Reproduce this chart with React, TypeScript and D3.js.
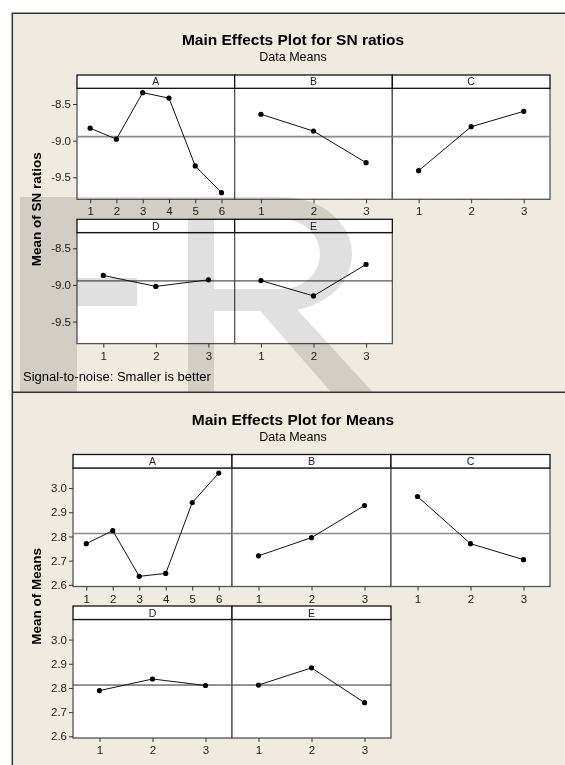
import { useEffect, useRef } from "react";
import * as d3 from "d3";

// factor levels
const levels6 = ["1", "2", "3", "4", "5", "6"];
const levels3 = ["1", "2", "3"];
const factorNames = ["A", "B", "C", "D", "E"];
const factorLevels = [levels6, levels3, levels3, levels3, levels3];

// SN ratio means per level
const snA = [-8.83, -8.98, -8.345, -8.42, -9.345, -9.71];
const snB = [-8.64, -8.87, -9.3];
const snC = [-9.41, -8.81, -8.6];
const snD = [-8.87, -9.02, -8.93];
const snE = [-8.94, -9.15, -8.72];
const snGrandMean = -8.945;
const snTicks = [-8.5, -9.0, -9.5];

// data means per level
const meanA = [2.77, 2.824, 2.635, 2.647, 2.94, 3.062];
const meanB = [2.72, 2.795, 2.928];
const meanC = [2.965, 2.77, 2.704];
const meanD = [2.789, 2.837, 2.81];
const meanE = [2.812, 2.883, 2.739];
const meansGrandMean = 2.812;
const meansTicks = [2.6, 2.7, 2.8, 2.9, 3.0];

const FONT = "'Liberation Sans', Arial, sans-serif";
const BG = "#efebe1";

function drawMainEffects(svg: any, cfg: any) {
    const g = svg.append("g");
    const colW = (cfg.right - cfg.left) / 3;
    const y = d3.scaleLinear().domain(cfg.domain).range([cfg.plotH, 0]);

    g.append("text")
        .attr("x", 293)
        .attr("y", cfg.titleY)
        .attr("text-anchor", "middle")
        .style("font-family", FONT)
        .style("font-size", "15.5px")
        .style("font-weight", "bold")
        .text(cfg.title);

    g.append("text")
        .attr("x", 293)
        .attr("y", cfg.subY)
        .attr("text-anchor", "middle")
        .style("font-family", FONT)
        .style("font-size", "12.5px")
        .text("Data Means");

    const rowStep = cfg.stripH + cfg.plotH + cfg.rowGap;

    cfg.values.forEach((vals: number[], i: number) => {
        const col = i % 3;
        const row = i < 3 ? 0 : 1;
        const px = cfg.left + col * colW;
        const sy = cfg.stripTop + row * rowStep;
        const py = sy + cfg.stripH;
        const levels = factorLevels[i];

        const x = d3.scalePoint().domain(levels).range([px, px + colW]).padding(0.5);

        g.append("rect")
            .attr("x", px).attr("y", py)
            .attr("width", colW).attr("height", cfg.plotH)
            .attr("fill", "white")
            .attr("stroke", "#555").attr("stroke-width", 1.3);

        g.append("rect")
            .attr("x", px).attr("y", sy)
            .attr("width", colW).attr("height", cfg.stripH)
            .attr("fill", "white")
            .attr("stroke", "#111").attr("stroke-width", 1.3);

        g.append("text")
            .attr("x", px + colW / 2)
            .attr("y", sy + cfg.stripH / 2 + 3.8)
            .attr("text-anchor", "middle")
            .style("font-family", FONT)
            .style("font-size", "10.5px")
            .attr("fill", "#222")
            .text(factorNames[i]);

        // grand mean reference line
        g.append("line")
            .attr("x1", px).attr("x2", px + colW)
            .attr("y1", py + y(cfg.grand)).attr("y2", py + y(cfg.grand))
            .attr("stroke", cfg.refColors[row])
            .attr("stroke-width", cfg.refWidths[row]);

        const pts = levels.map((l, k) => [x(l) as number, py + y(vals[k])]);
        g.append("path")
            .attr("d", d3.line()(pts as any))
            .attr("fill", "none")
            .attr("stroke", "#111")
            .attr("stroke-width", 1);

        g.selectAll(null)
            .data(pts)
            .enter()
            .append("circle")
            .attr("cx", (d: number[]) => d[0])
            .attr("cy", (d: number[]) => d[1])
            .attr("r", 2.6)
            .attr("fill", "#000");

        const xAxis = g.append("g")
            .attr("transform", `translate(0,${py + cfg.plotH})`)
            .call(d3.axisBottom(x).tickSize(4).tickSizeOuter(0));
        xAxis.select(".domain").remove();
        xAxis.selectAll("line").attr("stroke", "#333");
        xAxis.selectAll("text")
            .attr("y", 8)
            .style("font-family", FONT)
            .style("font-size", "11.5px")
            .attr("fill", "#222");

        if (col === 0) {
            const yAxis = g.append("g")
                .attr("transform", `translate(${px},${py})`)
                .call(d3.axisLeft(y).tickValues(cfg.ticks).tickSize(4)
                    .tickFormat((v: any) => (+v).toFixed(1)));
            yAxis.select(".domain").remove();
            yAxis.selectAll("line").attr("stroke", "#333");
            yAxis.selectAll("text")
                .attr("x", -6)
                .style("font-family", FONT)
                .style("font-size", "11.5px")
                .attr("fill", "#222");
        }
    });

    const midY = cfg.stripTop + (2 * cfg.stripH + 2 * cfg.plotH + cfg.rowGap) / 2;
    g.append("text")
        .attr("transform", `translate(41,${midY}) rotate(-90)`)
        .attr("text-anchor", "middle")
        .style("font-family", FONT)
        .style("font-size", "13.5px")
        .style("font-weight", "bold")
        .text(cfg.yLabel);
}

export default function App() {
    const svgRef = useRef<SVGSVGElement>(null);

    useEffect(() => {
        const svg = d3.select(svgRef.current);
        svg.selectAll("*").remove();

        svg.append("rect").attr("width", 565).attr("height", 765).attr("fill", "white");
        svg.append("rect")
            .attr("x", 12.3).attr("y", 13.3)
            .attr("width", 565).attr("height", 765)
            .attr("fill", BG);

        drawMainEffects(svg, {
            title: "Main Effects Plot for SN ratios",
            titleY: 45,
            subY: 61,
            left: 77,
            right: 550,
            stripTop: 75,
            stripH: 13.3,
            plotH: 111,
            rowGap: 20,
            domain: [-9.8, -8.286],
            ticks: snTicks,
            values: [snA, snB, snC, snD, snE],
            grand: snGrandMean,
            refColors: ["#8a8a8a", "#2a2a2a"],
            refWidths: [1.6, 1],
            yLabel: "Mean of SN ratios",
        });

        svg.append("text")
            .attr("x", 23)
            .attr("y", 381)
            .style("font-family", FONT)
            .style("font-size", "13px")
            .text("Signal-to-noise: Smaller is better");

        // "FR" watermark over the upper chart
        svg.append("clipPath").attr("id", "wmclip")
            .append("rect").attr("x", 0).attr("y", 0).attr("width", 565).attr("height", 392);
        const wm = svg.append("g")
            .attr("clip-path", "url(#wmclip)")
            .style("mix-blend-mode", "multiply")
            .attr("fill", "#e0e0e0");
        wm.append("path").attr("d", "M20,197H232V218H77V278H137V306H77V400H20Z");
        wm.append("path")
            .attr("fill-rule", "evenodd")
            .attr("d", "M188,197H282A70,57 0 0 1 282,311H214V400H188Z M214,219H282A38,35 0 0 1 282,289H214Z");
        wm.append("path").attr("d", "M255,305H293L380,400H338Z");

        drawMainEffects(svg, {
            title: "Main Effects Plot for Means",
            titleY: 425,
            subY: 441,
            left: 73,
            right: 550,
            stripTop: 454.5,
            stripH: 13.5,
            plotH: 118.5,
            rowGap: 19.5,
            domain: [2.593, 3.083],
            ticks: meansTicks,
            values: [meanA, meanB, meanC, meanD, meanE],
            grand: meansGrandMean,
            refColors: ["#8a8a8a", "#2a2a2a"],
            refWidths: [1.6, 1],
            yLabel: "Mean of Means",
        });

        // frame lines
        svg.append("path")
            .attr("d", "M12.3,765V13.3H565")
            .attr("fill", "none")
            .attr("stroke", "#333")
            .attr("stroke-width", 1.5);
        svg.append("line")
            .attr("x1", 12.3).attr("x2", 565)
            .attr("y1", 392.3).attr("y2", 392.3)
            .attr("stroke", "#333")
            .attr("stroke-width", 1.5);
    }, []);

    return (
        <svg
            ref={svgRef}
            width={565}
            height={765}
            style={{ position: "absolute", left: 0, top: 0, display: "block" }}
        ></svg>
    );
}
